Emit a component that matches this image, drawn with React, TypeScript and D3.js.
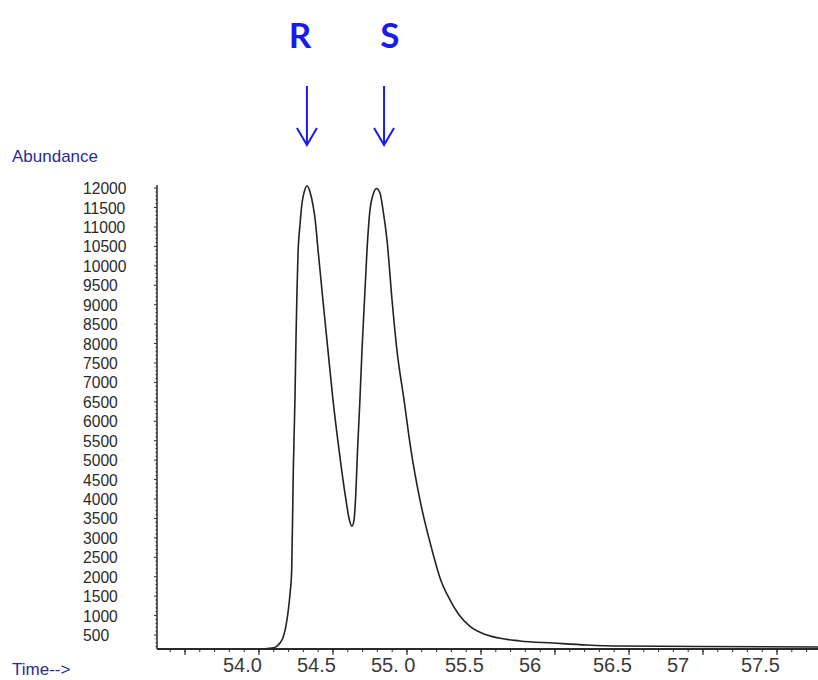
import React from 'react';
import * as d3 from 'd3';

// retention time (min) and abundance
const times = [
  54.05, 54.09, 54.12, 54.142, 54.162, 54.178, 54.189, 54.2, 54.209, 54.221,
  54.232, 54.243, 54.25, 54.257, 54.264, 54.277, 54.291, 54.307, 54.324, 54.345,
  54.365, 54.38, 54.399, 54.432, 54.466, 54.5, 54.541, 54.588, 54.608, 54.628,
  54.642, 54.652, 54.666, 54.682, 54.696, 54.713, 54.73, 54.75, 54.77, 54.794,
  54.818, 54.838, 54.865, 54.899, 54.932, 54.98, 55.027, 55.088, 55.169, 55.225,
  55.291, 55.35, 55.426, 55.541, 55.764, 55.986, 56.216, 56.439, 56.98, 57.777,
];
const abundance = [
  150, 165, 210, 294, 430, 650, 890, 1200, 1530, 2170,
  4750, 6550, 8100, 9380, 10330, 11050, 11620, 11920, 12060, 11900,
  11560, 11180, 10410, 9120, 7830, 6550, 5260, 3970, 3510, 3300,
  3450, 3970, 5260, 6550, 7830, 9120, 10410, 11440, 11820, 11990,
  11870, 11440, 10660, 9120, 7830, 6550, 5260, 3970, 2690, 1950,
  1400, 1030, 720, 500, 346, 294, 243, 217, 204, 191,
];

const xTickValues = [54.0, 54.5, 55.0, 55.5, 56.0, 56.5, 57.0, 57.5];
const xTickLabels = ['54.0', '54.5', '55. 0', '55.5', '56', '56.5', '57', '57.5'];
const yTickValues = [
  500, 1000, 1500, 2000, 2500, 3000, 3500, 4000, 4500, 5000, 5500, 6000,
  6500, 7000, 7500, 8000, 8500, 9000, 9500, 10000, 10500, 11000, 11500, 12000,
];

const peakNames = ['R', 'S'];
const peakLabelTimes = [54.277, 54.885];
const peakArrowTimes = [54.324, 54.845];

const W = 818;
const H = 680;
const axisLeft = 157;
const axisBottom = 649;
const axisTop = 185;

const App = () => {
  const x = d3.scaleLinear().domain([53.311, 57.777]).range([axisLeft, W]);
  const y = d3.scaleLinear().domain([140, 12080]).range([axisBottom, axisTop]);

  const pts = times.map((t, i) => [t, abundance[i]] as [number, number]);
  const line = d3.line<[number, number]>()
    .x(d => x(d[0]))
    .y(d => y(d[1]))
    .curve(d3.curveMonotoneX);

  const xMinor = d3.range(53.2, 57.85, 0.1).filter(t => x(t) >= axisLeft + 2 && x(t) <= W);
  const xMajor = [53.5, ...xTickValues];
  const yMinor = d3.range(200, 12001, 100);

  const blue = '#1a1af0';
  const navy = '#2b2b96';
  const ink = '#2a2a2a';

  return (
    <svg width={W} height={H}
      style={{ position: 'absolute', left: 0, top: 0, background: '#fff' }}
      fontFamily="'Liberation Sans', Arial, sans-serif">

      {/* peak markers */}
      {peakNames.map((n, i) => (
        <text key={n} x={x(peakLabelTimes[i])} y={48} textAnchor="middle"
          fontFamily="Lato, 'Open Sans', sans-serif" fontWeight={700} fontSize={35} fill={blue}>{n}</text>
      ))}
      {peakArrowTimes.map((t, i) => {
        const ax = x(t);
        return (
          <g key={i} stroke={blue} strokeWidth={2} fill="none">
            <line x1={ax} y1={86} x2={ax} y2={145} />
            <polyline points={`${ax - 10},${128} ${ax},${145} ${ax + 10},${128}`} />
          </g>
        );
      })}

      <text x={12} y={162} fontSize={17} fill={navy}>Abundance</text>
      <text x={12} y={675} fontSize={17} fill={navy}>Time--&gt;</text>

      {/* y axis */}
      <line x1={axisLeft} x2={axisLeft} y1={axisTop} y2={axisBottom} stroke={ink} strokeWidth={1.5} />
      {yMinor.map(v => (
        <line key={v} x1={axisLeft - (v % 500 === 0 ? 3 : 1.5)} x2={axisLeft} y1={y(v)} y2={y(v)} stroke={ink} strokeWidth={1} />
      ))}
      {yTickValues.map(v => (
        <text key={v} transform={`translate(83,${y(v) + 6}) scale(0.92,1)`} fontSize={17} fill={ink}>{v}</text>
      ))}

      {/* x axis */}
      <line x1={axisLeft} x2={W} y1={axisBottom} y2={axisBottom} stroke={ink} strokeWidth={2} />
      {xMinor.map((t, i) => (
        <line key={i} x1={x(t)} x2={x(t)} y1={axisBottom} y2={axisBottom + 3} stroke={ink} strokeWidth={1} />
      ))}
      {xMajor.map(t => (
        <line key={t} x1={x(t)} x2={x(t)} y1={axisBottom} y2={axisBottom + 6} stroke={ink} strokeWidth={1.2} />
      ))}
      {xTickValues.map((t, i) => (
        <text key={t} x={x(t) - 36} y={672} fontSize={20} fill="#3a3a3a" style={{ whiteSpace: 'pre' }}>{xTickLabels[i]}</text>
      ))}

      <path d={line(pts) ?? ''} fill="none" stroke="#222" strokeWidth={1.6} />
    </svg>
  );
};

export default App;
